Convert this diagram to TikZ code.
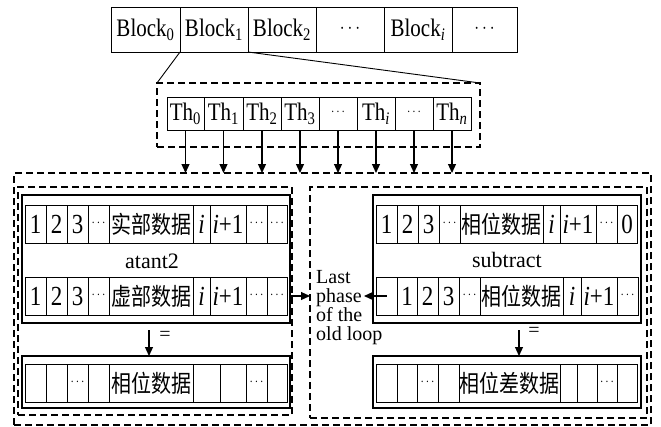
\documentclass[tikz,border=0pt]{standalone}
\usepackage{fontspec}
\setmainfont{Liberation Serif}
\newfontfamily\cjk{Noto Sans CJK SC}
\usetikzlibrary{arrows.meta}

% one row of cells: [extra style], name prefix, centre y, height, list of left/right/text
\newcommand\cellrow[5][]{%
  \foreach \l/\r/\t [count=\k] in {#5}{%
    \pgfmathsetmacro\w{\r-\l}
    \node[cell, #1, minimum width=\w pt, minimum height=#4pt] (#2\k) at (\l,#3) {\scalebox{1}[1.2]{\t}};}}
% small centred dots for narrow cells
\newcommand\dts{\raisebox{2pt}{\fontsize{13}{13}\selectfont$\cdots$}}
\newcommand\cj[1]{{\cjk\fontsize{20}{20}\selectfont #1}}

\tikzset{
  cell/.style={draw, rectangle, inner sep=0pt, outer sep=0pt, anchor=west,
    line width=0.9pt, font=\fontsize{21}{21}\selectfont},
  datarow/.style={font=\fontsize{23}{23}\selectfont},
  dbox/.style={draw, rectangle, inner sep=0pt, outer sep=0pt,
    line width=1.5pt, dash pattern=on 7pt off 4pt},
  sbox/.style={draw, rectangle, inner sep=0pt, outer sep=0pt, line width=1.1pt},
  arr/.style={-{Triangle[length=9pt,width=8pt]}, line width=1.2pt},
}

\begin{document}
\begin{tikzpicture}[x=1pt, y=-1pt, every node/.style={font=\fontsize{20}{20}\selectfont}]
  \useasboundingbox (0,0) rectangle (661,426);

  % -- blocks
  \cellrow{b}{29.5}{45}{111/180/Block\textsubscript{0}, 180/248/Block\textsubscript{1},
    248/316/Block\textsubscript{2}, 316/384/\raisebox{1pt}{\fontsize{17}{17}\selectfont$\cdots$},
    384/452/Block\textsubscript{\textit{i}}, 452/517/\raisebox{1pt}{\fontsize{17}{17}\selectfont$\cdots$}}

  % -- threads of block 1
  \node[dbox, minimum width=323pt, minimum height=64pt] (thr) at (318.5,115) {};
  \cellrow{t}{113.5}{33}{167/204/Th\textsubscript{0}, 204/243/Th\textsubscript{1},
    243/281/Th\textsubscript{2}, 281/319/Th\textsubscript{3}, 319/357/\dts,
    357/395/Th\textsubscript{\textit{i}}, 395/433/\dts, 433/471/Th\textsubscript{\textit{n}}}
  \draw[line width=0.9pt] (b1.south east) -- (thr.north west);
  \draw[line width=0.9pt] (b3.south west) -- (thr.north east);

  % -- dashed frames
  \node[dbox, minimum width=637pt, minimum height=252pt] (outer) at (332.5,299) {};
  \node[dbox, minimum width=274pt, minimum height=228pt] (ldash) at (155,301) {};
  \node[dbox, minimum width=337pt, minimum height=231pt] (rdash) at (478.5,302.5) {};

  \foreach \k in {1,...,8}{
    \draw[arr] (t\k.south) -- (t\k.south |- outer.north); }

  % -- left: atant2
  \node[sbox, minimum width=268pt, minimum height=128pt] (la) at (156,259) {};
  \cellrow[datarow]{L1c}{224}{38}{25/46/1, 46/67/2, 67/88/3, 88/109/\dts,
    109/193/\cj{实部数据}, 193/210/\textit{i}, 210/246/\textit{i}+1,
    246/267/\dts, 267/287/\dts}
  \cellrow[datarow]{L2c}{296}{38}{25/46/1, 46/67/2, 67/88/3, 88/109/\dts,
    109/193/\cj{虚部数据}, 193/210/\textit{i}, 210/246/\textit{i}+1,
    246/267/\dts, 267/287/\dts}
  \node[font=\fontsize{22}{22}\selectfont] (atan) at (152,261) {atant2};

  \node[sbox, minimum width=268pt, minimum height=52pt] (lb) at (156,382) {};
  \cellrow[datarow]{L3c}{383}{38}{25/46/, 46/67/, 67/88/\dts, 88/109/,
    109/193/\cj{相位数据}, 193/220/, 220/246/, 246/267/\dts, 267/287/}
  \draw[arr] ([xshift=-7pt,yshift=-7pt]la.south) -- ([xshift=-7pt]lb.north);
  \node (eqL) at (165,336) {=};

  % -- right: subtract
  \node[sbox, minimum width=268pt, minimum height=128pt] (ra) at (507,259) {};
  \cellrow[datarow]{R1c}{224}{38}{376/397/1, 397/418/2, 418/439/3, 439/460/\dts,
    460/543/\cj{相位数据}, 543/560/\textit{i}, 560/596/\textit{i}+1,
    596/617/\dts, 617/637/0}
  \cellrow[datarow]{R2c}{296}{38}{376/397/, 397/417/1, 417/438/2, 438/459/3, 459/480/\dts,
    480/563/\cj{相位数据}, 563/581/\textit{i}, 581/617/\textit{i}+1, 617/638/\dts}
  \node[font=\fontsize{22}{22}\selectfont] (subt) at (507,260) {subtract};

  \node[sbox, minimum width=268pt, minimum height=52pt] (rb) at (507,382) {};
  \cellrow[datarow]{R3c}{383}{38}{376/397/, 397/417/, 417/438/\dts, 438/459/,
    459/560/\cj{相位差数据}, 560/577/, 577/597/, 597/617/\dts, 617/637/}
  \draw[arr] ([xshift=12pt,yshift=-7pt]ra.south) -- ([xshift=12pt]rb.north);
  \node (eqR) at (534,332) {=};

  % -- last phase
  \node[align=left, anchor=west, inner sep=0pt, font=\fontsize{20}{19}\selectfont]
    (last) at (316,308) {Last\\phase\\of the\\old loop};
  \draw[arr] (la.east |- L2c9.center) -- (rdash.west |- L2c9.center);
  \coordinate (phaseend) at (364,296);
  \draw[arr] (R2c1.center) -- (phaseend);
\end{tikzpicture}
\end{document}
